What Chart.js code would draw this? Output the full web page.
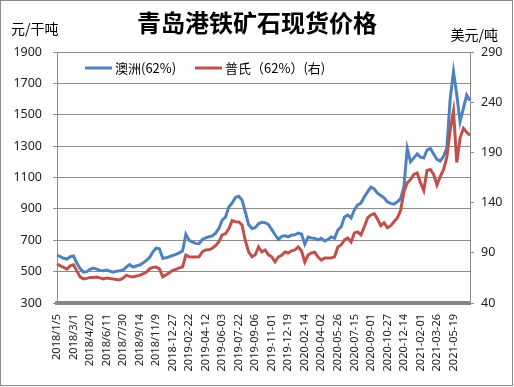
<!DOCTYPE html>
<html>
<head>
<meta charset="utf-8">
<script src="https://cdn.jsdelivr.net/npm/chart.js@4.4.0/dist/chart.umd.min.js"></script>
<style>
  html, body { margin: 0; padding: 0; background: #fff; }
  #wrap { width: 514px; height: 387px; position: relative; }
</style>
</head>
<body>
<div id="wrap"><canvas id="ironChart" width="514" height="387"></canvas></div>
<script>
// ===== DATA =====
const tickLabels = [
  "2018/1/5", "2018/3/1", "2018/4/20", "2018/6/11", "2018/7/30", "2018/9/14", "2018/11/9",
  "2018-12-27", "2019-02-22", "2019-04-12", "2019-06-03", "2019-07-22", "2019-09-06",
  "2019-11-01", "2019-12-19", "2020-02-14", "2020-04-02", "2020-05-26", "2020-07-15",
  "2020-09-01", "2020-10-27", "2020-12-14", "2021-02-01", "2021-03-26", "2021-05-19"
];
const pointsPerTick = 5;

// 澳洲(62%), 元/干吨 (left axis)
const australia = [
  606, 595, 585, 580, 595, 600, 555, 520, 497, 500,
  515, 523, 516, 508, 505, 510, 503, 497, 503, 506,
  510, 530, 545, 529, 536, 542, 555, 570, 590, 625,
  650, 645, 585, 588, 595, 603, 610, 620, 632, 738,
  700, 688, 680, 678, 705, 715, 722, 728, 745, 775,
  829, 848, 912, 937, 972, 980, 957, 880, 800, 775,
  780, 805, 815, 812, 800, 768, 735, 705, 725, 728,
  722, 733, 735, 745, 740, 675, 720, 714, 712, 702,
  712, 695, 705, 721, 712, 765, 785, 848, 861, 842,
  893, 925, 937, 976, 1008, 1038, 1027, 1000, 985, 970,
  944, 935, 930, 945, 965, 1040, 1285, 1200, 1225, 1250,
  1230, 1224, 1275, 1285, 1250, 1215, 1205, 1235, 1290, 1600,
  1775, 1626, 1455, 1540, 1625, 1590
];

// 普氏(62%), 美元/吨 (right axis)
const platts = [
  78.8, 77, 75.5, 73.8, 77, 78, 72, 66, 64, 64.5,
  65.5, 65.5, 65.9, 65, 64, 64.9, 64.5, 63.9, 63.5, 63,
  64.9, 67.5, 66.5, 66, 66.9, 67.5, 68.9, 70.5, 74, 75.5,
  75.9, 74, 66, 68, 70, 72.5, 73.5, 75, 75.9, 87.8,
  86, 85.8, 85.8, 86, 91, 92.8, 93, 94.5, 97, 101,
  107.8, 109, 114, 122, 121, 120.7, 117.7, 102, 91, 86,
  88, 95.8, 90.8, 92.8, 88, 86, 81, 85.8, 87.5, 90.8,
  89.8, 92, 92.8, 95.8, 92, 80.8, 87.8, 89.8, 90.5, 85.8,
  82.8, 84.8, 84.8, 84.8, 86, 95.8, 97.8, 102.8, 104.8, 100.8,
  109.8, 110.8, 107.8, 115.7, 124.7, 127.7, 129, 123.7, 117, 120,
  115, 117, 121, 124.7, 132, 150.6, 159.6, 163, 168, 169.5,
  160, 152, 172, 173, 168, 157.5, 166, 173, 185.4, 212,
  231, 180, 204.3, 214, 210, 207
];

const BLUE = "#4F81BD";
const RED = "#C0504D";
const GRID = "#8c8c8c";
const CJK = "'Noto Sans CJK SC', 'Noto Sans', sans-serif";

// category labels: a tick label every pointsPerTick points
const categories = australia.map((_, i) =>
  i % pointsPerTick === 0 ? tickLabels[i / pointsPerTick] || "" : ""
);

// ===== EXTRA DRAWING: border, title, units, legend =====
const decorations = {
  id: "decorations",
  afterDraw(chart) {
    const ctx = chart.ctx;
    ctx.save();

    // outer frame
    ctx.strokeStyle = "#8a8a8a";
    ctx.lineWidth = 1;
    ctx.strokeRect(0.5, 0.5, 512, 385);

    // title
    ctx.fillStyle = "#000";
    ctx.font = "bold 24px " + CJK;
    ctx.textAlign = "center";
    ctx.textBaseline = "middle";
    ctx.fillText("青岛港铁矿石现货价格", 257, 23);

    // axis units
    ctx.font = "14px " + CJK;
    ctx.textAlign = "left";
    ctx.fillText("元/干吨", 11, 29);
    ctx.textAlign = "right";
    ctx.fillText("美元/吨", 498, 35);

    // legend inside plot
    const items = [
      { label: "澳洲(62%)", color: BLUE, x: 85 },
      { label: "普氏（62%）(右)", color: RED, x: 195 },
    ];
    ctx.font = "13px " + CJK;
    ctx.textAlign = "left";
    items.forEach((it) => {
      ctx.strokeStyle = it.color;
      ctx.lineWidth = 3;
      ctx.beginPath();
      ctx.moveTo(it.x, 68);
      ctx.lineTo(it.x + 27, 68);
      ctx.stroke();
      ctx.fillStyle = "#000";
      ctx.fillText(it.label, it.x + 30, 68);
    });

    ctx.restore();
  },
};

// ===== CHART =====
const ctx = document.getElementById("ironChart");

new Chart(ctx, {
  type: "line",
  data: {
    labels: categories,
    datasets: [
      {
        label: "澳洲(62%)",
        data: australia,
        yAxisID: "y",
        borderColor: BLUE,
        borderWidth: 3,
        pointRadius: 0,
        tension: 0,
        fill: false,
        order: 1,
      },
      {
        label: "普氏（62%）(右)",
        data: platts,
        yAxisID: "y1",
        borderColor: RED,
        borderWidth: 3,
        pointRadius: 0,
        tension: 0,
        fill: false,
        order: 0,
      },
    ],
  },
  options: {
    responsive: false,
    animation: false,
    layout: { padding: { top: 52, left: 0, right: 0, bottom: 0 } },
    plugins: {
      legend: { display: false },
      title: { display: false },
      tooltip: { enabled: false },
    },
    scales: {
      x: {
        type: "category",
        offset: false,
        grid: { display: false },
        border: { display: true, color: "#858585", width: 4 },
        ticks: {
          autoSkip: false,
          minRotation: 90,
          maxRotation: 90,
          padding: 3,
          color: "#222",
          font: { family: "'Noto Sans', sans-serif", size: 11 },
          callback: (v, i) => categories[i],
        },
        afterFit: (s) => { s.height = 84; },
      },
      y: {
        position: "left",
        min: 300,
        max: 1900,
        ticks: {
          stepSize: 200,
          padding: 11,
          color: "#222",
          font: { family: "'Noto Sans', sans-serif", size: 12.5 },
          callback: (v) => String(v),
        },
        grid: { color: GRID, lineWidth: 1, tickLength: 4 },
        border: { color: GRID, width: 1 },
        afterFit: (s) => { s.width = 57; },
      },
      y1: {
        position: "right",
        min: 40,
        max: 290,
        ticks: {
          stepSize: 50,
          padding: 7,
          color: "#222",
          font: { family: "'Noto Sans', sans-serif", size: 12.5 },
          callback: (v) => String(v),
        },
        grid: { drawOnChartArea: false, color: GRID, tickLength: 4 },
        border: { color: GRID, width: 1 },
        afterFit: (s) => { s.width = 44; },
      },
    },
  },
  plugins: [decorations],
});
</script>
</body>
</html>
